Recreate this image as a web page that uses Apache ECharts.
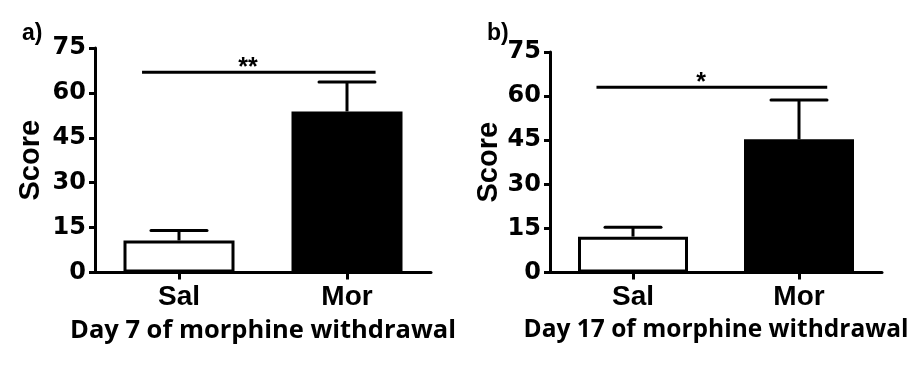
<!DOCTYPE html>
<html>
<head>
<meta charset="utf-8">
<script src="https://cdn.jsdelivr.net/npm/echarts@6/dist/echarts.min.js"></script>
<style>
html,body{margin:0;padding:0;background:#fff;}
#chart{width:923px;height:367px;}
</style>
</head>
<body>
<div id="chart"></div>
<script>
// ---- data ----
var categories = ['Sal', 'Mor'];
var yTicks = [0, 15, 30, 45, 60, 75];
var panelLabels = ['a)', 'b)'];
var xTitles = ['Day 7 of morphine withdrawal', 'Day 17 of morphine withdrawal'];
var yTitle = 'Score';

var day7Mean = [10.7, 53.8];
var day7Sem = [3.3, 9.8];
var day17Mean = [12.2, 45.3];
var day17Sem = [3.2, 13.4];

var sigY = [66.9, 63.0];
var sigText = ['**', '*'];

// ---- chart ----
var chart = echarts.init(document.getElementById('chart'), null, {renderer: 'canvas'});
var TICK_FONT = 'DejaVu Sans';
var ARIAL = 'Liberation Sans';
var BODY = 'Open Sans';

var grids = [
  {left: 95, top: 48, width: 336, height: 224.5},
  {left: 550, top: 52, width: 332, height: 220.5}
];

function xAxisFor(i) {
  return {
    type: 'category', gridIndex: i, data: categories,
    boundaryGap: true,
    axisLine: {lineStyle: {color: '#000', width: 3}},
    axisTick: {show: true, alignWithLabel: true, length: 7, lineStyle: {color: '#000', width: 3}},
    axisLabel: {color: '#000', fontFamily: ARIAL, fontWeight: 'bold', fontSize: 28, margin: 11},
    name: xTitles[i], nameLocation: 'middle', nameGap: 45,
    nameTextStyle: {color: '#000', fontFamily: BODY, fontWeight: 'bold', fontSize: i === 0 ? 25.5 : 24.5}
  };
}
function yAxisFor(i) {
  return {
    type: 'value', gridIndex: i, min: yTicks[0], max: yTicks[yTicks.length - 1], interval: yTicks[1] - yTicks[0],
    splitLine: {show: false},
    axisLine: {show: true, lineStyle: {color: '#000', width: 3}},
    axisTick: {show: true, length: 6, lineStyle: {color: '#000', width: 3}},
    axisLabel: {color: '#000', fontFamily: TICK_FONT, fontWeight: 'bold', fontSize: 24, margin: 9},
    name: yTitle, nameLocation: 'middle', nameGap: i === 0 ? 50 : 46,
    nameTextStyle: {color: '#000', fontFamily: ARIAL, fontWeight: 'bold', fontSize: 29}
  };
}

function barSeries(i, means) {
  return {
    type: 'bar', xAxisIndex: i, yAxisIndex: i,
    barWidth: i === 0 ? 111 : 110,
    data: means.map(function (v, k) {
      return {value: v, itemStyle: {color: k === 0 ? '#fff' : '#000', borderColor: '#000', borderWidth: 3}};
    }),
    silent: true, animation: false
  };
}

function errSeries(i, means, sems) {
  return {
    type: 'custom', xAxisIndex: i, yAxisIndex: i, silent: true, animation: false, z: 5,
    data: means.map(function (m, k) { return [k, m, m + sems[k]]; }),
    encode: {x: 0, y: [1, 2]},
    renderItem: function (params, api) {
      var x = api.value(0);
      var p0 = api.coord([x, api.value(1)]);
      var p1 = api.coord([x, api.value(2)]);
      var hw = 28;
      var st = {stroke: '#000', lineWidth: 3};
      return {type: 'group', children: [
        {type: 'line', shape: {x1: p0[0], y1: p0[1], x2: p1[0], y2: p1[1]}, style: st},
        {type: 'line', shape: {x1: p1[0] - hw, y1: p1[1], x2: p1[0] + hw, y2: p1[1]}, style: {stroke: '#000', lineWidth: 3, lineCap: 'round'}}
      ]};
    }
  };
}

function sigSeries(i) {
  return {
    type: 'custom', xAxisIndex: i, yAxisIndex: i, silent: true, animation: false, z: 5,
    data: [[0, sigY[i]]],
    encode: {x: 0, y: 1},
    renderItem: function (params, api) {
      var y = api.value(1);
      var a = api.coord([0, y]);
      var b = api.coord([1, y]);
      var band = b[0] - a[0];
      var x1 = a[0] - 0.22 * band;
      var x2 = b[0] + 0.17 * band;
      var mid = (a[0] + b[0]) / 2 - 15;
      return {type: 'group', children: [
        {type: 'line', shape: {x1: x1, y1: a[1], x2: x2, y2: a[1]}, style: {stroke: '#000', lineWidth: 3}},
        {type: 'text', x: mid, y: a[1] + 8, style: {text: sigText[i], fill: '#000', font: 'bold 25px "Liberation Sans"', align: 'center', verticalAlign: 'bottom'}}
      ]};
    }
  };
}

chart.setOption({
  backgroundColor: '#fff',
  animation: false,
  title: [
    {text: panelLabels[0], left: 22, top: 22, padding: 0, textStyle: {fontFamily: ARIAL, fontWeight: 'bold', fontSize: 23, color: '#000'}},
    {text: panelLabels[1], left: 487, top: 22, padding: 0, textStyle: {fontFamily: ARIAL, fontWeight: 'bold', fontSize: 23, color: '#000'}}
  ],
  grid: grids,
  xAxis: [xAxisFor(0), xAxisFor(1)],
  yAxis: [yAxisFor(0), yAxisFor(1)],
  series: [
    barSeries(0, day7Mean), errSeries(0, day7Mean, day7Sem), sigSeries(0),
    barSeries(1, day17Mean), errSeries(1, day17Mean, day17Sem), sigSeries(1)
  ]
});
</script>
</body>
</html>
